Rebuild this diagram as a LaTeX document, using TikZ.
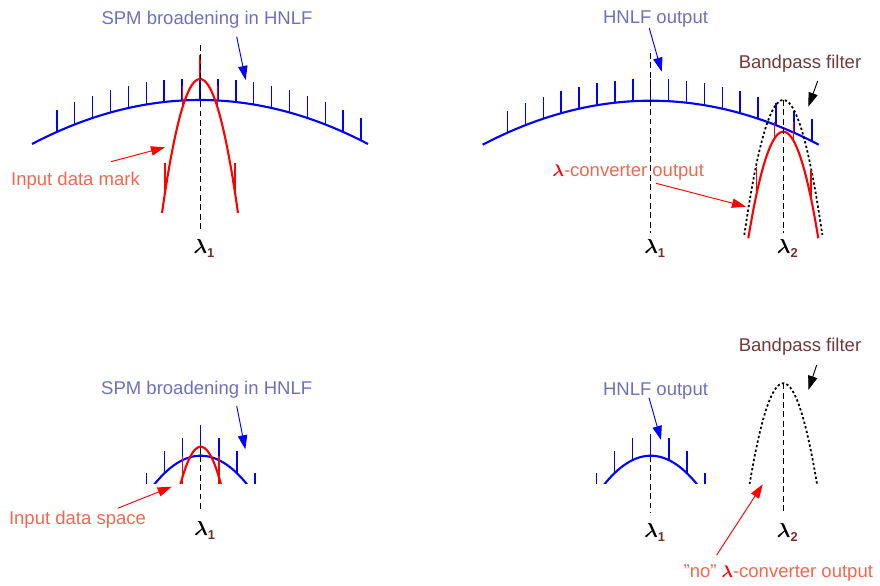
\documentclass[tikz,border=0pt]{standalone}
\usepackage{fontspec}
\setmainfont{Liberation Sans}
\usepackage{bm}
\usetikzlibrary{arrows.meta}
\definecolor{labelblue}{RGB}{112,112,184}
\definecolor{labelred}{RGB}{240,104,80}
\definecolor{filterbrown}{RGB}{112,58,58}
\definecolor{subbrown}{RGB}{112,48,48}
\newcommand{\lamsub}[1]{$\bm{\lambda}$\raisebox{-0.45ex}{\fontsize{11}{11}\selectfont\bfseries\color{subbrown}#1}}
\begin{document}
\begin{tikzpicture}[x=0.03cm,y=-0.03cm,
  bluecurve/.style={blue,line width=1.8pt},
  redcurve/.style={red,line width=1.8pt},
  bluetick/.style={blue,line width=1.3pt},
  redtick/.style={red,line width=1.3pt},
  filtercurve/.style={black,line width=1.5pt,dash pattern=on 2pt off 2pt},
  centreline/.style={black,line width=0.7pt,dash pattern=on 5pt off 3pt},
  caption/.style={font=\fontsize{15.8}{19}\selectfont,anchor=base,inner sep=0pt},
  lamlabel/.style={font=\fontsize{16.5}{19}\selectfont,anchor=base,inner sep=0pt},
  pointer/.style={line width=0.8pt,-{Triangle[length=12pt,width=8pt]}}]
  \useasboundingbox (0,0) rectangle (880,585);
  % Top left: SPM broadening of the input mark
  \draw[bluecurve,domain=-168:168,samples=80] plot ({200+\x},{100+44*(\x/168)*(\x/168)});
  \foreach \k in {-8,...,9}
    \draw[bluetick] ({200+17.9*\k},{100+44*(17.9*\k/168)*(17.9*\k/168)}) -- ++(0,-22);
  \draw[redcurve,domain=-38:38,samples=60] plot ({200+\x},{79+134*(\x/38)*(\x/38)});
  \foreach \dx/\yt in {-35/163,-17.7/86,0/55,17.7/86,35/163}
    \draw[redtick] ({200+\dx},{79+134*(\dx/38)*(\dx/38)}) -- ({200+\dx},\yt);
  \draw[centreline] (200,45) -- (200,230);
  \node[lamlabel] (lamA) at (204,253) {\lamsub{1}};
  \node[caption,labelblue] (spmA) at (207,24) {SPM broadening in HNLF};
  \node[caption,labelred] (markA) at (75.5,185) {Input data mark};
  \coordinate (spmA-tail) at (236.7,36.7);
  \coordinate (spmA-head) at (245.7,80);
  \coordinate (markA-tail) at (111,161.7);
  \coordinate (markA-head) at (165,147.3);
  \draw[pointer,blue] (spmA-tail) -- (spmA-head);
  \draw[pointer,red] (markA-tail) -- (markA-head);
  % Top right: HNLF output and bandpass filter
  \draw[bluecurve,domain=-168:168,samples=80] plot ({650.7+\x},{100.7+44*(\x/168)*(\x/168)});
  \foreach \k in {-8,...,9}
    \draw[bluetick] ({650.7+17.9*\k},{100.7+44*(17.9*\k/168)*(17.9*\k/168)}) -- ++(0,-22);
  \draw[filtercurve,domain=-39:39,samples=60] plot ({783.3+\x},{100+135*(\x/39)*(\x/39)});
  \draw[redcurve,domain=-35:35,samples=60] plot ({783.3+\x},{131.7+106.6*(\x/35)*(\x/35)});
  \foreach \dx/\yt in {-26.6/167,-9/122,10/122,27.7/170}
    \draw[redtick] ({783.3+\dx},{131.7+106.6*(\dx/35)*(\dx/35)}) -- ({783.3+\dx},\yt);
  \draw[centreline] (650.7,53) -- (650.7,233);
  \draw[centreline] (783.3,100) -- (783.3,233);
  \node[lamlabel] (lamB) at (654.7,253) {\lamsub{1}};
  \node[lamlabel] (lamC) at (787.3,253) {\lamsub{2}};
  \node[caption,labelblue] (hnlfB) at (655.5,23.3) {HNLF output};
  \node[caption,filterbrown] (bpfB) at (800,68.3) {Bandpass filter};
  \node[caption,labelred] (convB) at (628.3,176) {{\color{red}$\bm{\lambda}$}-converter output};
  \coordinate (hnlfB-tail) at (649.3,28.3);
  \coordinate (hnlfB-head) at (661.7,71.7);
  \coordinate (bpfB-tail) at (817.7,81);
  \coordinate (bpfB-head) at (808.3,106.7);
  \coordinate (convB-tail) at (656,183.3);
  \coordinate (convB-head) at (746,206.7);
  \draw[pointer,blue] (hnlfB-tail) -- (hnlfB-head);
  \draw[pointer,black] (bpfB-tail) -- (bpfB-head);
  \draw[pointer,red] (convB-tail) -- (convB-head);
  % Bottom left: input data space
  \begin{scope}
    \clip (0,300) rectangle (440,483.3);
    \draw[bluecurve,domain=-60:60,samples=60] plot ({200.7+\x},{455.7+27.6*(\x/45.5)*(\x/45.5)});
    \foreach \k in {-3,...,3}
      \draw[bluetick] ({200.7+18.1*\k},{455.7+27.6*(18.1*\k/45.5)*(18.1*\k/45.5)}) -- ++(0,-22);
    \draw[bluetick] (200.7,446.7) -- ++(0,-22);
    \draw[redcurve,domain=-25:25,samples=40] plot ({200.7+\x},{446.7+36.6*(\x/20)*(\x/20)});
    \foreach \dx in {-18.4,18.4}
      \draw[redtick] ({200.7+\dx},456) -- ++(0,30);
  \end{scope}
  \draw[centreline] (200.7,446.7) -- (200.7,512);
  \node[lamlabel] (lamD) at (204.7,535) {\lamsub{1}};
  \node[caption,labelblue] (spmD) at (206.7,394.3) {SPM broadening in HNLF};
  \node[caption,labelred] (spaceD) at (77.5,524.3) {Input data space};
  \coordinate (spmD-tail) at (236.7,406);
  \coordinate (spmD-head) at (245.3,449.3);
  \coordinate (spaceD-tail) at (117.7,508.3);
  \coordinate (spaceD-head) at (171.7,486.7);
  \draw[pointer,blue] (spmD-tail) -- (spmD-head);
  \draw[pointer,red] (spaceD-tail) -- (spaceD-head);
  % Bottom right: no converter output
  \begin{scope}
    \clip (440,300) rectangle (880,483.3);
    \draw[bluecurve,domain=-60:60,samples=60] plot ({650.7+\x},{455.7+27.6*(\x/45.5)*(\x/45.5)});
    \foreach \k in {-3,...,3}
      \draw[bluetick] ({650.7+18.1*\k},{455.7+27.6*(18.1*\k/45.5)*(18.1*\k/45.5)}) -- ++(0,-22);
    \draw[filtercurve,domain=-45:45,samples=60] plot ({783.3+\x},{383.3+135*(\x/39)*(\x/39)});
  \end{scope}
  \draw[centreline] (650.7,455.7) -- (650.7,513);
  \draw[centreline] (783.3,383.3) -- (783.3,513);
  \node[lamlabel] (lamE) at (654.7,537) {\lamsub{1}};
  \node[lamlabel] (lamF) at (787.3,537) {\lamsub{2}};
  \node[caption,labelblue] (hnlfE) at (655.5,395) {HNLF output};
  \node[caption,filterbrown] (bpfE) at (800,351.7) {Bandpass filter};
  \node[caption,labelred] (noconvE) at (778.3,577.7) {”no” {\color{red}$\bm{\lambda}$}-converter output};
  \coordinate (hnlfE-tail) at (649,397.7);
  \coordinate (hnlfE-head) at (661,440);
  \coordinate (bpfE-tail) at (816.7,365);
  \coordinate (bpfE-head) at (808.3,390);
  \coordinate (noconvE-tail) at (716.7,555);
  \coordinate (noconvE-head) at (762.7,484.3);
  \draw[pointer,blue] (hnlfE-tail) -- (hnlfE-head);
  \draw[pointer,black] (bpfE-tail) -- (bpfE-head);
  \draw[pointer,red] (noconvE-tail) -- (noconvE-head);
\end{tikzpicture}
\end{document}
